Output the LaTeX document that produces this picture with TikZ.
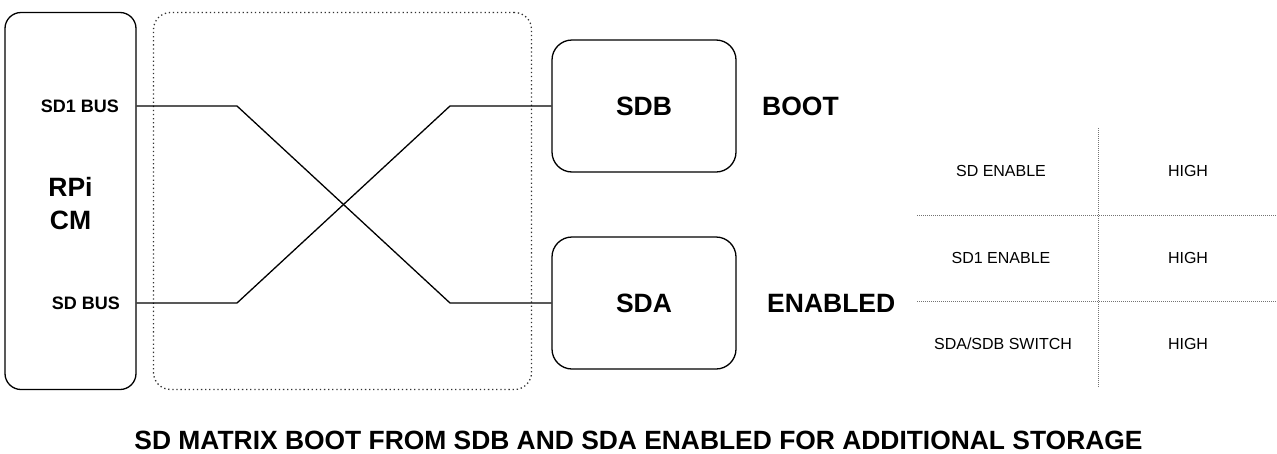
\documentclass[tikz,border=0pt]{standalone}
\usepackage{fontspec}
\setmainfont{Liberation Sans}
\begin{document}
\begin{tikzpicture}[x=1pt,y=-1pt,
  box/.style={draw=black, line width=1.3pt, rounded corners=16pt, inner sep=0pt},
  dotbox/.style={draw=black!80, line width=1.3pt, dash pattern=on 1.3pt off 2.8pt, rounded corners=17pt, inner sep=0pt},
  wire/.style={draw=black, line width=1.3pt},
  tline/.style={draw=black!55, line width=0.8pt, dash pattern=on 1pt off 1pt},
  big/.style={inner sep=0pt, font=\fontsize{26.5}{33}\selectfont\bfseries},
  mid/.style={inner sep=0pt, font=\fontsize{18}{22}\selectfont\bfseries},
  small/.style={inner sep=0pt, font=\fontsize{16}{19}\selectfont}]
\useasboundingbox (0,0) rectangle (1277,453);

% main blocks
\node[box, minimum width=131pt, minimum height=377pt] (rpi) at (70.5,201) {};
\node[big, align=center] (rpilbl) at (70.5,204) {RPi\\CM};
\node[dotbox, minimum width=378pt, minimum height=377pt] (matrix) at (342.5,201) {};
\node[box, rounded corners=20pt, minimum width=184pt, minimum height=132pt] (sdb) at (644,106) {};
\node[big] at (sdb.center) {SDB};
\node[box, rounded corners=20pt, minimum width=184pt, minimum height=132pt] (sda) at (644,303) {};
\node[big] at (sda.center) {SDA};

% labels
\node[mid, anchor=east] (sd1bus) at (119,106) {SD1 BUS};
\node[mid, anchor=east] (sdbus) at (120,303) {SD BUS};
\node[big, anchor=west] (boot) at (762,106) {BOOT};
\node[big, anchor=west] (enabled) at (767,303) {ENABLED};

% crossing wires
\coordinate (a1) at (237,106);
\coordinate (a2) at (450,303);
\coordinate (b1) at (237,303);
\coordinate (b2) at (450,106);
\draw[wire] (rpi.east |- sdb.west) -- (a1) -- (a2) -- (sda.west);
\draw[wire] (rpi.east |- sda.west) -- (b1) -- (b2) -- (sdb.west);

% table
\coordinate (vt) at (1098,128);
\coordinate (vb) at (1098,387);
\coordinate (h1l) at (917,215);
\coordinate (h1r) at (1277,215);
\coordinate (h2l) at (917,301);
\coordinate (h2r) at (1277,301);
\draw[tline] (vt) -- (vb);
\draw[tline] (h1l) -- (h1r);
\draw[tline] (h2l) -- (h2r);
\node[small] (t11) at (1001,171) {SD ENABLE};
\node[small] (t12) at (1188,171) {HIGH};
\node[small] (t21) at (1001,258) {SD1 ENABLE};
\node[small] (t22) at (1188,258) {HIGH};
\node[small] (t31) at (1003,344) {SDA/SDB SWITCH};
\node[small] (t32) at (1188,344) {HIGH};

% title
\node[inner sep=0pt, font=\fontsize{26.4}{30}\selectfont\bfseries] (title) at (638.5,440) {SD MATRIX BOOT FROM SDB AND SDA ENABLED FOR ADDITIONAL STORAGE};
\end{tikzpicture}
\end{document}
